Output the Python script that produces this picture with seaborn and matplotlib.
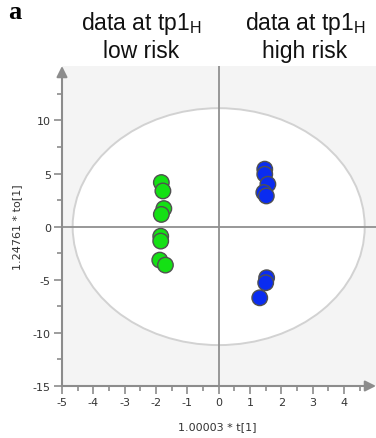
import matplotlib
matplotlib.use("Agg")
import matplotlib.pyplot as plt
from matplotlib.patches import Ellipse
import numpy as np
import pandas as pd
import seaborn as sns

# Score coordinates t[1] / to[1] for the two risk groups
low_t = [-1.83, -1.78, -1.75, -1.83, -1.85, -1.85, -1.88, -1.70]
low_to = [4.15, 3.36, 1.70, 1.15, -0.90, -1.36, -3.15, -3.62]
high_t = [1.47, 1.47, 1.57, 1.44, 1.52, 1.53, 1.50, 1.31]
high_to = [5.41, 4.93, 3.99, 3.21, 2.89, -4.81, -5.28, -6.70]
groups = ["low risk", "high risk"]
group_colors = ["#14e014", "#0a2cf0"]

# Hotelling T2 ellipse semi-axes
ell_a, ell_b = 4.66, 11.15

x_ticks = list(range(-5, 5))
y_ticks = list(range(-15, 15, 5))
titles = ["data at tp1$_{\\mathregular{H}}$", "data at tp1$_{\\mathregular{H}}$"]

df = pd.DataFrame({
    "t": low_t + high_t,
    "to": low_to + high_to,
    "group": [groups[0]] * len(low_t) + [groups[1]] * len(high_t),
})

sns.set_theme(style="white")
plt.rcParams["font.family"] = ["DejaVu Sans"]
plt.rcParams["mathtext.default"] = "regular"
plt.rcParams["axes.unicode_minus"] = False

W, H = 376, 439
fig = plt.figure(figsize=(W / 100, H / 100), dpi=100)
fig.patch.set_facecolor("white")

left, right, top, bottom = 62, 376, 67, 387
ax = fig.add_axes([left / W, 1 - bottom / H, (right - left) / W, (bottom - top) / H])
ax.set_facecolor("#f4f4f4")
ax.set_xlim(-5, 5.02)
ax.set_ylim(-15, 15.12)

ax.add_patch(Ellipse((0, 0), 2 * ell_a, 2 * ell_b, facecolor="white",
                     edgecolor="#d2d2d2", lw=1.4, zorder=1))
ax.axhline(0, color="#909090", lw=1.3, zorder=2)
ax.axvline(0, color="#909090", lw=1.3, zorder=2)

sns.scatterplot(data=df, x="t", y="to", hue="group", hue_order=groups,
                palette=group_colors, s=125, edgecolor="#505050", linewidth=1.0,
                legend=False, ax=ax, zorder=3)

for sp in ax.spines.values():
    sp.set_visible(False)

axis_col = "#8c8c8c"
ax.annotate("", xy=(0, 1.0), xytext=(0, 0), xycoords="axes fraction",
            arrowprops=dict(arrowstyle="-|>", color=axis_col, lw=1.5,
                            mutation_scale=16, shrinkA=0, shrinkB=0))
ax.annotate("", xy=(1.0, 0), xytext=(0, 0), xycoords="axes fraction",
            arrowprops=dict(arrowstyle="-|>", color=axis_col, lw=1.5,
                            mutation_scale=16, shrinkA=0, shrinkB=0))

ax.set_xticks(x_ticks)
ax.set_xticks(np.arange(-5, 4.6, 0.5), minor=True)
ax.set_yticks(y_ticks)
ax.set_yticks(np.arange(-15, 12.6, 2.5), minor=True)
ax.tick_params(axis="both", which="major", direction="out", length=6, width=1.2,
               color=axis_col, labelsize=8, labelcolor="#333333", pad=2,
               left=True, bottom=True)
ax.tick_params(axis="both", which="minor", direction="out", length=3.5, width=1.2,
               color=axis_col, left=True, bottom=True)

ax.set_xlabel("")
ax.set_ylabel("")
fig.text(217 / W, 1 - 427 / H, "1.00003 * t[1]", ha="center", va="center",
         fontsize=8, color="#333333")
fig.text(17 / W, 1 - 227 / H, "1.24761 * to[1]", ha="center", va="center",
         rotation=90, fontsize=8, color="#333333")

# column headings
for cx, head, sub in [(141, titles[0], groups[0]), (305, titles[1], groups[1])]:
    fig.text(cx / W, 1 - 30 / H, head, ha="center", va="baseline",
             fontsize=16.5, family="Liberation Sans", color="#111111")
    fig.text(cx / W, 1 - 58 / H, sub, ha="center", va="baseline",
             fontsize=16.5, family="Liberation Sans", color="#111111")

fig.text(8 / W, 1 - 1 / H, "a", ha="left", va="top", fontsize=19,
         family="Liberation Serif", fontweight="bold", color="black")

fig.savefig("out.png", dpi=100)
